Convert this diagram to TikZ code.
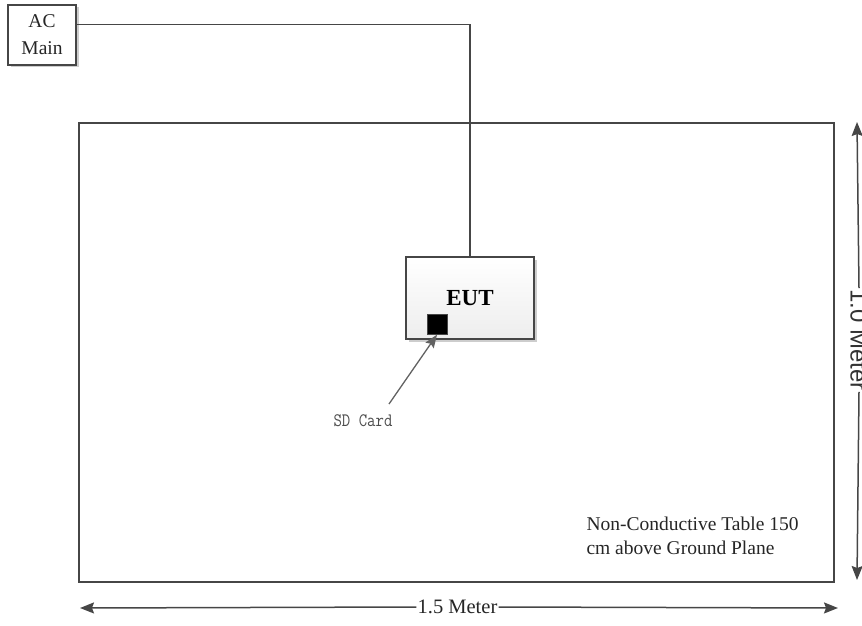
\documentclass[tikz,border=0pt]{standalone}
\usepackage{fontspec}
\setmainfont{Liberation Serif}
\setsansfont{Liberation Sans}
\usetikzlibrary{positioning,arrows.meta,calc,shadows}
\definecolor{lineGray}{RGB}{70,70,70}
\definecolor{shadowGray}{RGB}{205,205,205}
\tikzset{
  >={Stealth[length=14pt,width=11pt,inset=2pt]},
  box/.style={draw=lineGray,line width=1.6pt,inner sep=0pt,
    drop shadow={shadow xshift=2.5pt,shadow yshift=-2.5pt,fill=shadowGray,opacity=1}},
  eutBox/.style={box,top color=white,bottom color=gray!14,minimum width=128pt,minimum height=82pt},
  tableBox/.style={draw=lineGray,line width=2.4pt,minimum width=755pt,minimum height=459pt,inner sep=0pt},
  cable/.style={draw=lineGray,line width=1.3pt},
  dimLine/.style={draw=lineGray,line width=1.5pt,-{Stealth[length=14pt,width=11pt,inset=2pt]}},
  dimLabel/.style={inner sep=1pt},
}

\begin{document}
\begin{tikzpicture}[x=1pt,y=-1pt]
\useasboundingbox (0,0) rectangle (862,626);

% ===== Table =====
\node[tableBox] (table) at (456.5,352.5) {};
\node[anchor=north west, align=left, font=\fontsize{19.5}{24}\selectfont, text=black!85]
  (tableLabel) at (583,513) {Non-Conductive Table 150\\cm above Ground Plane};

% ===== AC Main and EUT =====
\node[box, fill=white, minimum width=68pt, minimum height=60pt, align=center,
  font=\fontsize{19.5}{27}\selectfont, text=black!85] (acMain) at (42,35) {AC\\Main};
\node[eutBox, font=\fontsize{23}{23}\selectfont\bfseries] (eut) at (470,298) {EUT};
\node[fill=black, draw=lineGray, minimum size=20pt, inner sep=0pt] (sdCard) at (437,324.5) {};

% power cable
\draw[cable] ($(acMain.north east)!0.33!(acMain.south east)$) -| (eut.north);

% ===== SD card pointer =====
\node[font=\fontsize{19}{19}\ttfamily, text=black!70] (sdLabel) at (363,421) {\scalebox{0.86}[1]{SD Card}};
\coordinate (sdTail) at (389,404);
\draw[draw=lineGray!85, line width=1.3pt, -{Stealth[length=13pt,width=10pt,inset=2pt]}] (sdTail) -- (sdCard.south);

% ===== Dimensions =====
\coordinate (wLeft) at (80,608);
\coordinate (wRight) at (838,608);
\node[dimLabel, font=\fontsize{20.5}{20.5}\selectfont, text=black!85] (wLabel) at (457.5,607) {1.5 Meter};
\draw[dimLine] (wLabel.west) -- (wLeft);
\draw[dimLine] (wLabel.east) -- (wRight);

\coordinate (hTop) at (857,122);
\coordinate (hBottom) at (857,580);
\node[dimLabel, rotate=-90, font=\sffamily\fontsize{24}{24}\selectfont, text=black!80] (hLabel) at (859,340) {1.0 Meter};
\draw[dimLine] (hLabel.west) -- (hTop);
\draw[dimLine] (hLabel.east) -- (hBottom);

\end{tikzpicture}
\end{document}
